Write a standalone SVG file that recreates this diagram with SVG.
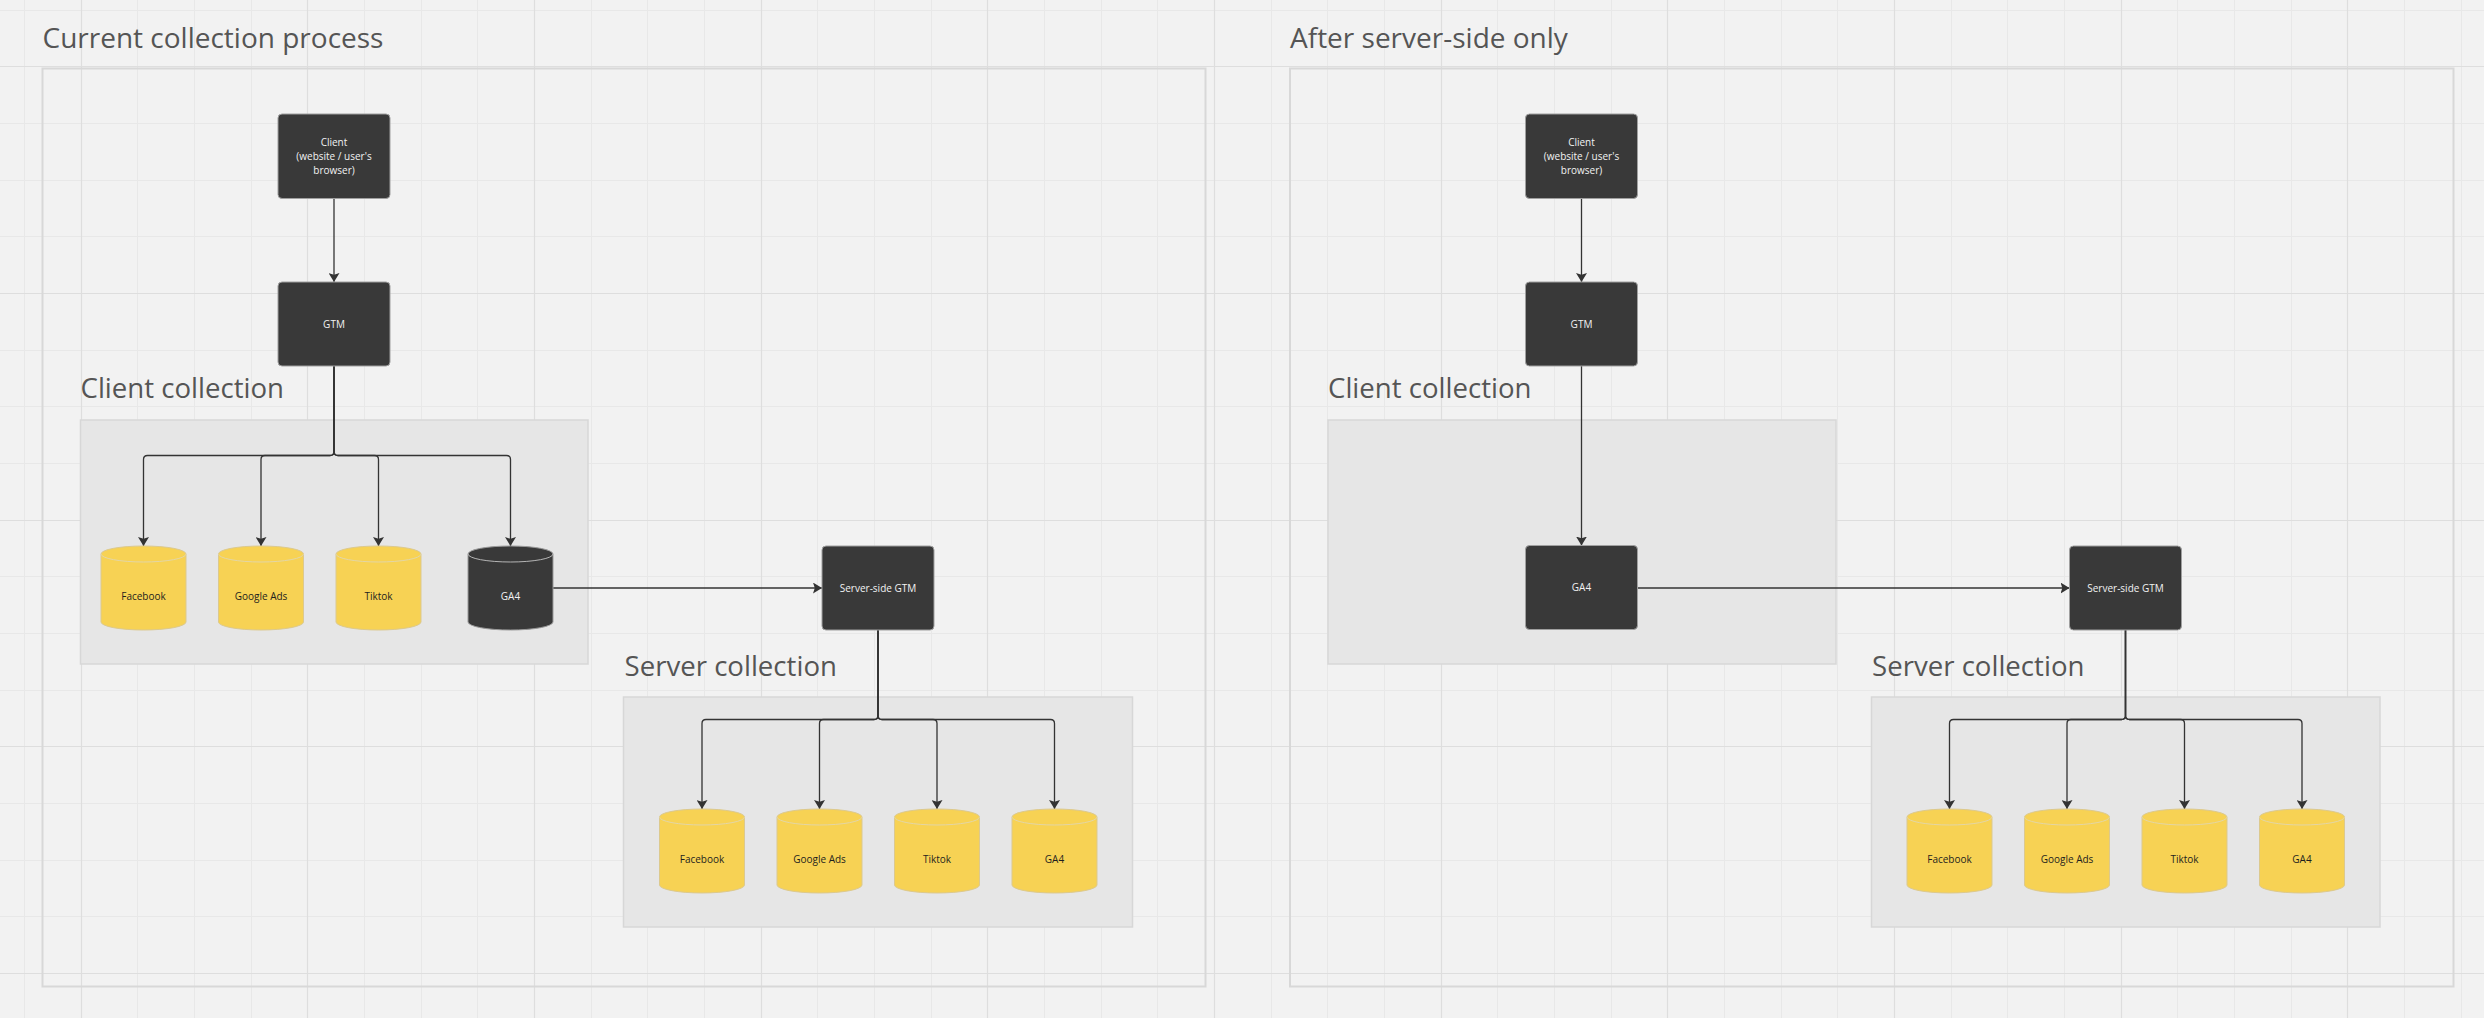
<svg xmlns="http://www.w3.org/2000/svg" width="2484" height="1018" viewBox="0 0 2484 1018">
<style>
.minor{stroke:#e8e8e8;stroke-width:1;fill:none}
.major{stroke:#dedede;stroke-width:1.2;fill:none}
.frame{fill:none;stroke:#d8d8d8;stroke-width:2}
.group{fill:#e6e6e6;stroke:#d7d7d7;stroke-width:1.5}
.title{font-family:"Open Sans","Liberation Sans",sans-serif;font-size:28px;fill:#555555}
.glabel{font-family:"Open Sans","Liberation Sans",sans-serif;font-size:27.6px;fill:#555555}
.box{fill:#393939;stroke:#a0a0a0;stroke-width:1}
.boxtext{font-family:"Open Sans","Liberation Sans",sans-serif;font-size:10px;fill:#f2f2f2;text-anchor:middle}
.cyl{fill:#f7d254;stroke:#dcc98e;stroke-width:1}
.cylrim{fill:none;stroke:#e3d6a6;stroke-width:1}
.cyld{fill:#393939;stroke:#9a9a9a;stroke-width:1}
.cyldrim{fill:none;stroke:#b5b5b5;stroke-width:1}
.cyltext{font-family:"Open Sans","Liberation Sans",sans-serif;font-size:10px;fill:#1e1e1e;text-anchor:middle}
.conn{fill:none;stroke:#333333;stroke-width:1.3}
</style>
<defs>
<marker id="arrow" markerUnits="userSpaceOnUse" markerWidth="9" markerHeight="11" viewBox="0 0 9 11" refX="9" refY="5.5" orient="auto">
<path d="M0,0 L9,5.5 L0,11 L1.8,5.5 Z" fill="#333333"/>
</marker>
</defs>
<rect width="2484" height="1018" fill="#f2f2f2"/>
<g id="grid">
<path class="minor" d="M24.5 0V1018M137.5 0V1018M194.5 0V1018M251.5 0V1018M364.5 0V1018M421.5 0V1018M477.5 0V1018M591.5 0V1018M647.5 0V1018M704.5 0V1018M817.5 0V1018M874.5 0V1018M931.5 0V1018M1044.5 0V1018M1101.5 0V1018M1157.5 0V1018M1271.5 0V1018M1327.5 0V1018M1384.5 0V1018M1497.5 0V1018M1554.5 0V1018M1611.5 0V1018M1724.5 0V1018M1781.5 0V1018M1837.5 0V1018M1951.5 0V1018M2007.5 0V1018M2064.5 0V1018M2177.5 0V1018M2234.5 0V1018M2291.5 0V1018M2404.5 0V1018M2461.5 0V1018M0 10.5H2484M0 123.5H2484M0 180.5H2484M0 236.5H2484M0 350.5H2484M0 406.5H2484M0 463.5H2484M0 576.5H2484M0 633.5H2484M0 690.5H2484M0 803.5H2484M0 860.5H2484M0 916.5H2484"/>
<path class="major" d="M81.5 0V1018M307.5 0V1018M534.5 0V1018M761.5 0V1018M987.5 0V1018M1214.5 0V1018M1441.5 0V1018M1667.5 0V1018M1894.5 0V1018M2121.5 0V1018M2347.5 0V1018M0 66.5H2484M0 293.5H2484M0 520.5H2484M0 746.5H2484M0 973.5H2484"/>
</g>

<g id="panel-current">
<text class="title" x="42.5" y="48">Current collection process</text>
<rect class="frame" x="42.5" y="68.5" width="1163" height="918"/>
</g>
<g id="panel-after">
<text class="title" x="1290" y="48">After server-side only</text>
<rect class="frame" x="1290" y="68.5" width="1163.5" height="918"/>
</g>

<g id="client-collection-1">
<rect class="group" x="80.5" y="420" width="507.5" height="244"/>
<text class="glabel" x="80.5" y="398">Client collection</text>
</g>
<g id="server-collection-1">
<rect class="group" x="623.5" y="697" width="509" height="230"/>
<text class="glabel" x="624.5" y="675.5">Server collection</text>
</g>
<g id="client-collection-2">
<rect class="group" x="1328" y="420" width="508" height="244"/>
<text class="glabel" x="1328" y="398">Client collection</text>
</g>
<g id="server-collection-2">
<rect class="group" x="1871.5" y="697" width="508.5" height="230"/>
<text class="glabel" x="1872" y="675.5">Server collection</text>
</g>

<g id="connectors">
<path class="conn" marker-end="url(#arrow)" d="M334 198.5V282"/>
<path class="conn" marker-end="url(#arrow)" d="M334 366V451.5Q334 455.5 330 455.5H147.5Q143.5 455.5 143.5 459.5V546"/>
<path class="conn" marker-end="url(#arrow)" d="M334 366V451.5Q334 455.5 330 455.5H265Q261 455.5 261 459.5V546"/>
<path class="conn" marker-end="url(#arrow)" d="M334 366V451.5Q334 455.5 338 455.5H374.5Q378.5 455.5 378.5 459.5V546"/>
<path class="conn" marker-end="url(#arrow)" d="M334 366V451.5Q334 455.5 338 455.5H506.5Q510.5 455.5 510.5 459.5V546"/>
<path class="conn" marker-end="url(#arrow)" d="M553 588H822"/>
<path class="conn" marker-end="url(#arrow)" d="M878 630V715.5Q878 719.5 874 719.5H706Q702 719.5 702 723.5V809"/>
<path class="conn" marker-end="url(#arrow)" d="M878 630V715.5Q878 719.5 874 719.5H823.5Q819.5 719.5 819.5 723.5V809"/>
<path class="conn" marker-end="url(#arrow)" d="M878 630V715.5Q878 719.5 882 719.5H933Q937 719.5 937 723.5V809"/>
<path class="conn" marker-end="url(#arrow)" d="M878 630V715.5Q878 719.5 882 719.5H1050.5Q1054.5 719.5 1054.5 723.5V809"/>
<path class="conn" marker-end="url(#arrow)" d="M1581.5 198.5V282"/>
<path class="conn" marker-end="url(#arrow)" d="M1581.5 366V545.5"/>
<path class="conn" marker-end="url(#arrow)" d="M1637.5 588H2069.5"/>
<path class="conn" marker-end="url(#arrow)" d="M2125.5 630V715.5Q2125.5 719.5 2121.5 719.5H1953.5Q1949.5 719.5 1949.5 723.5V809"/>
<path class="conn" marker-end="url(#arrow)" d="M2125.5 630V715.5Q2125.5 719.5 2121.5 719.5H2071Q2067 719.5 2067 723.5V809"/>
<path class="conn" marker-end="url(#arrow)" d="M2125.5 630V715.5Q2125.5 719.5 2129.5 719.5H2180.5Q2184.5 719.5 2184.5 723.5V809"/>
<path class="conn" marker-end="url(#arrow)" d="M2125.5 630V715.5Q2125.5 719.5 2129.5 719.5H2298Q2302 719.5 2302 723.5V809"/>
</g>

<g id="client-1">
<rect class="box" x="278" y="114" width="112" height="84.5" rx="4"/>
<text class="boxtext" x="334" y="146.2">Client</text>
<text class="boxtext" x="334" y="160.2">(website / user's</text>
<text class="boxtext" x="334" y="174.2">browser)</text>
</g>
<g id="gtm-1">
<rect class="box" x="278" y="282" width="112" height="84" rx="4"/>
<text class="boxtext" x="334" y="327.5">GTM</text>
</g>
<g id="facebook-client-1">
<path class="cyl" d="M101 554A42.5 8 0 0 1 186 554V622A42.5 8 0 0 1 101 622Z"/>
<path class="cylrim" d="M101 554A42.5 8 0 0 0 186 554"/>
<text class="cyltext" x="143.5" y="599.5">Facebook</text>
</g>
<g id="googleads-client-1">
<path class="cyl" d="M218.5 554A42.5 8 0 0 1 303.5 554V622A42.5 8 0 0 1 218.5 622Z"/>
<path class="cylrim" d="M218.5 554A42.5 8 0 0 0 303.5 554"/>
<text class="cyltext" x="261" y="599.5">Google Ads</text>
</g>
<g id="tiktok-client-1">
<path class="cyl" d="M336 554A42.5 8 0 0 1 421 554V622A42.5 8 0 0 1 336 622Z"/>
<path class="cylrim" d="M336 554A42.5 8 0 0 0 421 554"/>
<text class="cyltext" x="378.5" y="599.5">Tiktok</text>
</g>
<g id="ga4-client-1">
<path class="cyld" d="M468 554A42.5 8 0 0 1 553 554V622A42.5 8 0 0 1 468 622Z"/>
<path class="cyldrim" d="M468 554A42.5 8 0 0 0 553 554"/>
<text class="boxtext" x="510.5" y="599.5">GA4</text>
</g>
<g id="ssgtm-1">
<rect class="box" x="822" y="546" width="112" height="84" rx="4"/>
<text class="boxtext" x="878" y="591.5">Server-side GTM</text>
</g>
<g id="facebook-server-1">
<path class="cyl" d="M659.5 817A42.5 8 0 0 1 744.5 817V885A42.5 8 0 0 1 659.5 885Z"/>
<path class="cylrim" d="M659.5 817A42.5 8 0 0 0 744.5 817"/>
<text class="cyltext" x="702" y="862.5">Facebook</text>
</g>
<g id="googleads-server-1">
<path class="cyl" d="M777 817A42.5 8 0 0 1 862 817V885A42.5 8 0 0 1 777 885Z"/>
<path class="cylrim" d="M777 817A42.5 8 0 0 0 862 817"/>
<text class="cyltext" x="819.5" y="862.5">Google Ads</text>
</g>
<g id="tiktok-server-1">
<path class="cyl" d="M894.5 817A42.5 8 0 0 1 979.5 817V885A42.5 8 0 0 1 894.5 885Z"/>
<path class="cylrim" d="M894.5 817A42.5 8 0 0 0 979.5 817"/>
<text class="cyltext" x="937" y="862.5">Tiktok</text>
</g>
<g id="ga4-server-1">
<path class="cyl" d="M1012 817A42.5 8 0 0 1 1097 817V885A42.5 8 0 0 1 1012 885Z"/>
<path class="cylrim" d="M1012 817A42.5 8 0 0 0 1097 817"/>
<text class="cyltext" x="1054.5" y="862.5">GA4</text>
</g>

<g id="client-2">
<rect class="box" x="1525.5" y="114" width="112" height="84.5" rx="4"/>
<text class="boxtext" x="1581.5" y="146.2">Client</text>
<text class="boxtext" x="1581.5" y="160.2">(website / user's</text>
<text class="boxtext" x="1581.5" y="174.2">browser)</text>
</g>
<g id="gtm-2">
<rect class="box" x="1525.5" y="282" width="112" height="84" rx="4"/>
<text class="boxtext" x="1581.5" y="327.5">GTM</text>
</g>
<g id="ga4-2">
<rect class="box" x="1525.5" y="545.5" width="112" height="84" rx="4"/>
<text class="boxtext" x="1581.5" y="591">GA4</text>
</g>
<g id="ssgtm-2">
<rect class="box" x="2069.5" y="546" width="112" height="84" rx="4"/>
<text class="boxtext" x="2125.5" y="591.5">Server-side GTM</text>
</g>
<g id="facebook-server-2">
<path class="cyl" d="M1907 817A42.5 8 0 0 1 1992 817V885A42.5 8 0 0 1 1907 885Z"/>
<path class="cylrim" d="M1907 817A42.5 8 0 0 0 1992 817"/>
<text class="cyltext" x="1949.5" y="862.5">Facebook</text>
</g>
<g id="googleads-server-2">
<path class="cyl" d="M2024.5 817A42.5 8 0 0 1 2109.5 817V885A42.5 8 0 0 1 2024.5 885Z"/>
<path class="cylrim" d="M2024.5 817A42.5 8 0 0 0 2109.5 817"/>
<text class="cyltext" x="2067" y="862.5">Google Ads</text>
</g>
<g id="tiktok-server-2">
<path class="cyl" d="M2142 817A42.5 8 0 0 1 2227 817V885A42.5 8 0 0 1 2142 885Z"/>
<path class="cylrim" d="M2142 817A42.5 8 0 0 0 2227 817"/>
<text class="cyltext" x="2184.5" y="862.5">Tiktok</text>
</g>
<g id="ga4-server-2">
<path class="cyl" d="M2259.5 817A42.5 8 0 0 1 2344.5 817V885A42.5 8 0 0 1 2259.5 885Z"/>
<path class="cylrim" d="M2259.5 817A42.5 8 0 0 0 2344.5 817"/>
<text class="cyltext" x="2302" y="862.5">GA4</text>
</g>
</svg>
